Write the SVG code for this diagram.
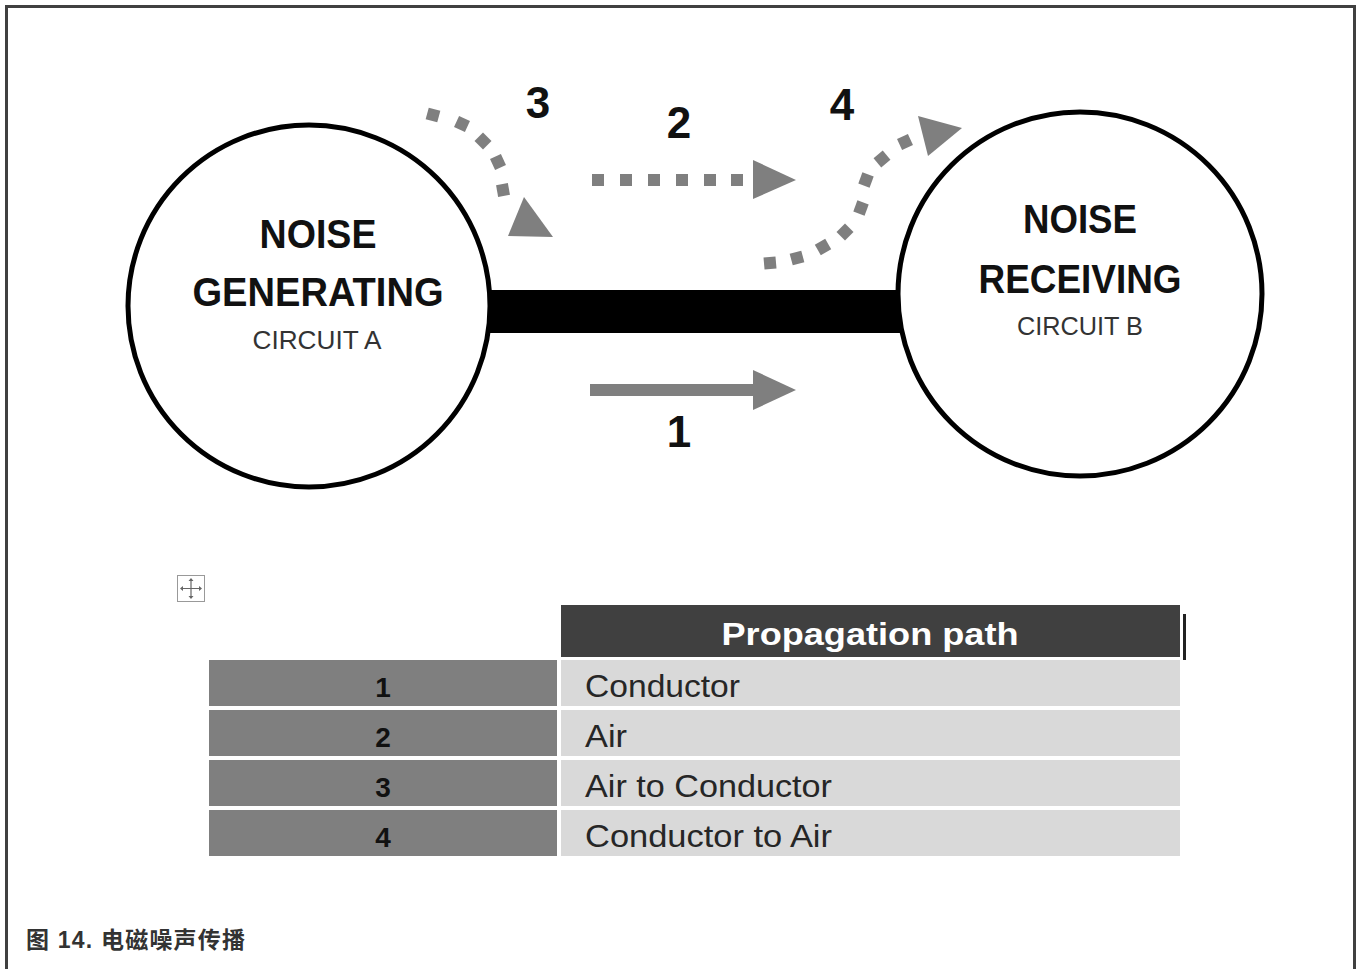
<svg xmlns="http://www.w3.org/2000/svg" width="1356" height="969" viewBox="0 0 1356 969">
<style>
.circ{fill:#fff;stroke:#000;stroke-width:5}
.big{font-family:"Liberation Sans",Arial,sans-serif;font-weight:bold;font-size:40px;fill:#111;text-anchor:middle}
.sub{font-family:"Liberation Sans",Arial,sans-serif;font-size:25px;fill:#333;text-anchor:middle}
.num{font-family:"Liberation Sans",Arial,sans-serif;font-weight:bold;font-size:44px;fill:#111;text-anchor:middle}
.sq{fill:#7f7f7f}
.head{fill:#7f7f7f}
.th{font-family:"Liberation Sans",Arial,sans-serif;font-weight:bold;font-size:32px;fill:#fff;text-anchor:middle}
.tn{font-family:"Liberation Sans",Arial,sans-serif;font-weight:bold;font-size:28px;fill:#111;text-anchor:middle}
.tt{font-family:"Liberation Sans",Arial,sans-serif;font-size:31px;fill:#262626}
.cap{font-family:"Liberation Sans","Noto Sans CJK SC",sans-serif;font-weight:bold;font-size:23px;fill:#333}
</style>
<rect width="1356" height="969" fill="#fff"/>
<path d="M6.5,969 V6.5 H1354.5 V969" fill="none" stroke="#404040" stroke-width="3"/>

<g id="connectors">
  <rect id="wire" x="488" y="290" width="412" height="43" fill="#000"/>
  <g id="path1">
    <rect x="590" y="384" width="166" height="12" fill="#7f7f7f"/>
    <polygon class="head" points="753,370 796,390 753,410"/>
  </g>
  <g id="path2">
    <rect class="sq" x="592" y="174" width="12" height="12"/>
    <rect class="sq" x="620" y="174" width="12" height="12"/>
    <rect class="sq" x="648" y="174" width="12" height="12"/>
    <rect class="sq" x="676" y="174" width="12" height="12"/>
    <rect class="sq" x="704" y="174" width="12" height="12"/>
    <rect class="sq" x="731" y="174" width="12" height="12"/>
    <polygon class="head" points="753,160 796,180 753,199"/>
  </g>
  <g id="path3">
    <rect class="sq" x="-6" y="-6" width="12" height="12" transform="translate(433,115) rotate(15)"/>
    <rect class="sq" x="-6" y="-6" width="12" height="12" transform="translate(462,124) rotate(25)"/>
    <rect class="sq" x="-6" y="-6" width="12" height="12" transform="translate(483,141) rotate(45)"/>
    <rect class="sq" x="-6" y="-6" width="12" height="12" transform="translate(498,162) rotate(65)"/>
    <rect class="sq" x="-6" y="-6" width="12" height="12" transform="translate(503,190) rotate(80)"/>
    <polygon class="head" points="508,236 524,197 553,237"/>
  </g>
  <g id="path4">
    <rect class="sq" x="-6" y="-6" width="12" height="12" transform="translate(770,263) rotate(-5)"/>
    <rect class="sq" x="-6" y="-6" width="12" height="12" transform="translate(797,258) rotate(-15)"/>
    <rect class="sq" x="-6" y="-6" width="12" height="12" transform="translate(823,247) rotate(-30)"/>
    <rect class="sq" x="-6" y="-6" width="12" height="12" transform="translate(845,232) rotate(-45)"/>
    <rect class="sq" x="-6" y="-6" width="12" height="12" transform="translate(861,208) rotate(-70)"/>
    <rect class="sq" x="-6" y="-6" width="12" height="12" transform="translate(866,180) rotate(-70)"/>
    <rect class="sq" x="-6" y="-6" width="12" height="12" transform="translate(882,159) rotate(-40)"/>
    <rect class="sq" x="-6" y="-6" width="12" height="12" transform="translate(905,142) rotate(-25)"/>
    <polygon class="head" points="918,116 962,128 928,156"/>
  </g>
  <text class="num" x="538" y="118">3</text>
  <text class="num" x="679" y="138">2</text>
  <text class="num" x="842" y="120">4</text>
  <text class="num" x="679" y="447">1</text>
</g>

<g id="circuitA">
  <circle class="circ" cx="309" cy="306" r="181"/>
  <text class="big" x="318" y="248" textLength="117" lengthAdjust="spacingAndGlyphs">NOISE</text>
  <text class="big" x="318" y="306" textLength="251" lengthAdjust="spacingAndGlyphs">GENERATING</text>
  <text class="sub" x="317" y="349" textLength="129" lengthAdjust="spacingAndGlyphs">CIRCUIT A</text>
</g>

<g id="circuitB">
  <circle class="circ" cx="1080" cy="294" r="182"/>
  <text class="big" x="1080" y="233" textLength="114" lengthAdjust="spacingAndGlyphs">NOISE</text>
  <text class="big" x="1080" y="293" textLength="203" lengthAdjust="spacingAndGlyphs">RECEIVING</text>
  <text class="sub" x="1080" y="335" textLength="126" lengthAdjust="spacingAndGlyphs">CIRCUIT B</text>
</g>

<g id="table-handle">
  <rect x="177.5" y="575.5" width="27" height="26" fill="#fff" stroke="#999" stroke-width="1"/>
  <path d="M191,579 V598 M181,588.5 H201" stroke="#666" stroke-width="1.2"/>
  <path d="M191,578 l-2.5,3 h5 z M191,599 l-2.5,-3 h5 z M180,588.5 l3,-2.5 v5 z M202,588.5 l-3,-2.5 v5 z" fill="#666"/>
</g>

<g id="table">
  <rect x="561" y="605" width="619" height="52" fill="#404040"/>
  <rect x="1183" y="614" width="3" height="46" fill="#222"/>
  <text class="th" x="870" y="645" textLength="297" lengthAdjust="spacingAndGlyphs">Propagation path</text>

  <rect x="209" y="660" width="348" height="46" fill="#7f7f7f"/>
  <rect x="561" y="660" width="619" height="46" fill="#d9d9d9"/>
  <text class="tn" x="383" y="697">1</text>
  <text class="tt" x="585" y="697" textLength="155" lengthAdjust="spacingAndGlyphs">Conductor</text>

  <rect x="209" y="710" width="348" height="46" fill="#7f7f7f"/>
  <rect x="561" y="710" width="619" height="46" fill="#d9d9d9"/>
  <text class="tn" x="383" y="747">2</text>
  <text class="tt" x="585" y="747" textLength="42" lengthAdjust="spacingAndGlyphs">Air</text>

  <rect x="209" y="760" width="348" height="46" fill="#7f7f7f"/>
  <rect x="561" y="760" width="619" height="46" fill="#d9d9d9"/>
  <text class="tn" x="383" y="797">3</text>
  <text class="tt" x="585" y="797" textLength="247" lengthAdjust="spacingAndGlyphs">Air to Conductor</text>

  <rect x="209" y="810" width="348" height="46" fill="#7f7f7f"/>
  <rect x="561" y="810" width="619" height="46" fill="#d9d9d9"/>
  <text class="tn" x="383" y="847">4</text>
  <text class="tt" x="585" y="847" textLength="247" lengthAdjust="spacingAndGlyphs">Conductor to Air</text>
</g>

<text class="cap" x="26" y="948" textLength="219" lengthAdjust="spacing">图 14. 电磁噪声传播</text>
</svg>
